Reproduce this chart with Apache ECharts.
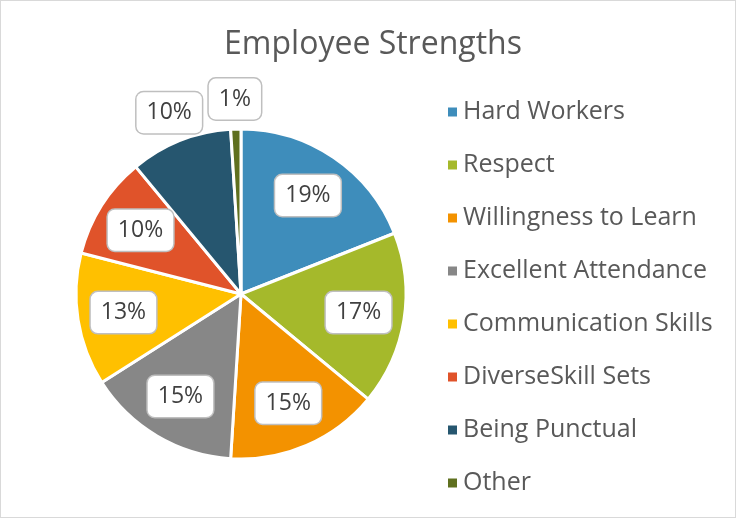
<!DOCTYPE html>
<html>
<head>
<meta charset="utf-8">
<script src="https://cdn.jsdelivr.net/npm/echarts@6/dist/echarts.min.js"></script>
<style>
  html, body { margin: 0; padding: 0; background: #fff; }
  #chart {
    width: 736px;
    height: 518px;
    box-sizing: border-box;
    border: 1px solid #d9d9d9;
  }
</style>
</head>
<body>
<div id="chart"></div>
<script>
const categories = [
  'Hard Workers', 'Respect', 'Willingness to Learn', 'Excellent Attendance',
  'Communication Skills', 'DiverseSkill Sets', 'Being Punctual', 'Other'
]
const values = [19, 17, 15, 15, 13, 10, 10, 1]
const colors = ['#3e8dbb', '#a5b92b', '#f39200', '#878787', '#ffc000', '#e0532a', '#26566f', '#5f701f']
// last two labels sit outside the pie in the reference
const outsideLabel = [false, false, false, false, false, false, true, true]

const font = 'Open Sans'
const chart = echarts.init(document.getElementById('chart'))

const labelBox = {
  show: true,
  position: 'inside',
  formatter: '{c}%',
  fontFamily: font,
  fontSize: 23,
  color: '#404040',
  backgroundColor: '#fff',
  borderColor: '#bfbfbf',
  borderWidth: 1.5,
  borderRadius: 7,
  padding: [9, 10, 9, 10]
}

// invisible ring used only to carry labels at a given radius
function labelRing(radius, pickOutside) {
  return {
    type: 'pie',
    silent: true,
    center: [240, 293],
    radius: radius,
    startAngle: 90,
    clockwise: true,
    legendHoverLink: false,
    itemStyle: { color: 'transparent', borderWidth: 0 },
    labelLine: { show: false },
    emphasis: { disabled: true },
    data: categories.map((name, i) => ({
      name: name,
      value: values[i],
      label: Object.assign({}, labelBox, { show: outsideLabel[i] === pickOutside })
    }))
  }
}

chart.setOption({
  animation: false,
  title: {
    text: 'Employee Strengths',
    left: 367,
    textAlign: 'center',
    top: 23,
    textStyle: { fontFamily: font, fontSize: 32, fontWeight: 'normal', color: '#595959' }
  },
  legend: {
    orient: 'vertical',
    left: 440,
    top: 90,
    itemWidth: 11,
    itemHeight: 11,
    itemGap: 21,
    icon: 'rect',
    data: categories.map((name, i) => ({ name: name, itemStyle: { color: colors[i] } })),
    textStyle: { fontFamily: font, fontSize: 25, color: '#595959', lineHeight: 32, padding: [0, 0, 0, 0] }
  },
  series: [
    {
      type: 'pie',
      center: [240, 293],
      radius: 165,
      startAngle: 90,
      clockwise: true,
      label: { show: false },
      labelLine: { show: false },
      itemStyle: { borderColor: '#fff', borderWidth: 3 },
      data: categories.map((name, i) => ({ name: name, value: values[i], itemStyle: { color: colors[i] } }))
    },
    labelRing([67, 165], false),
    labelRing([165, 219], true)
  ]
})
</script>
</body>
</html>
